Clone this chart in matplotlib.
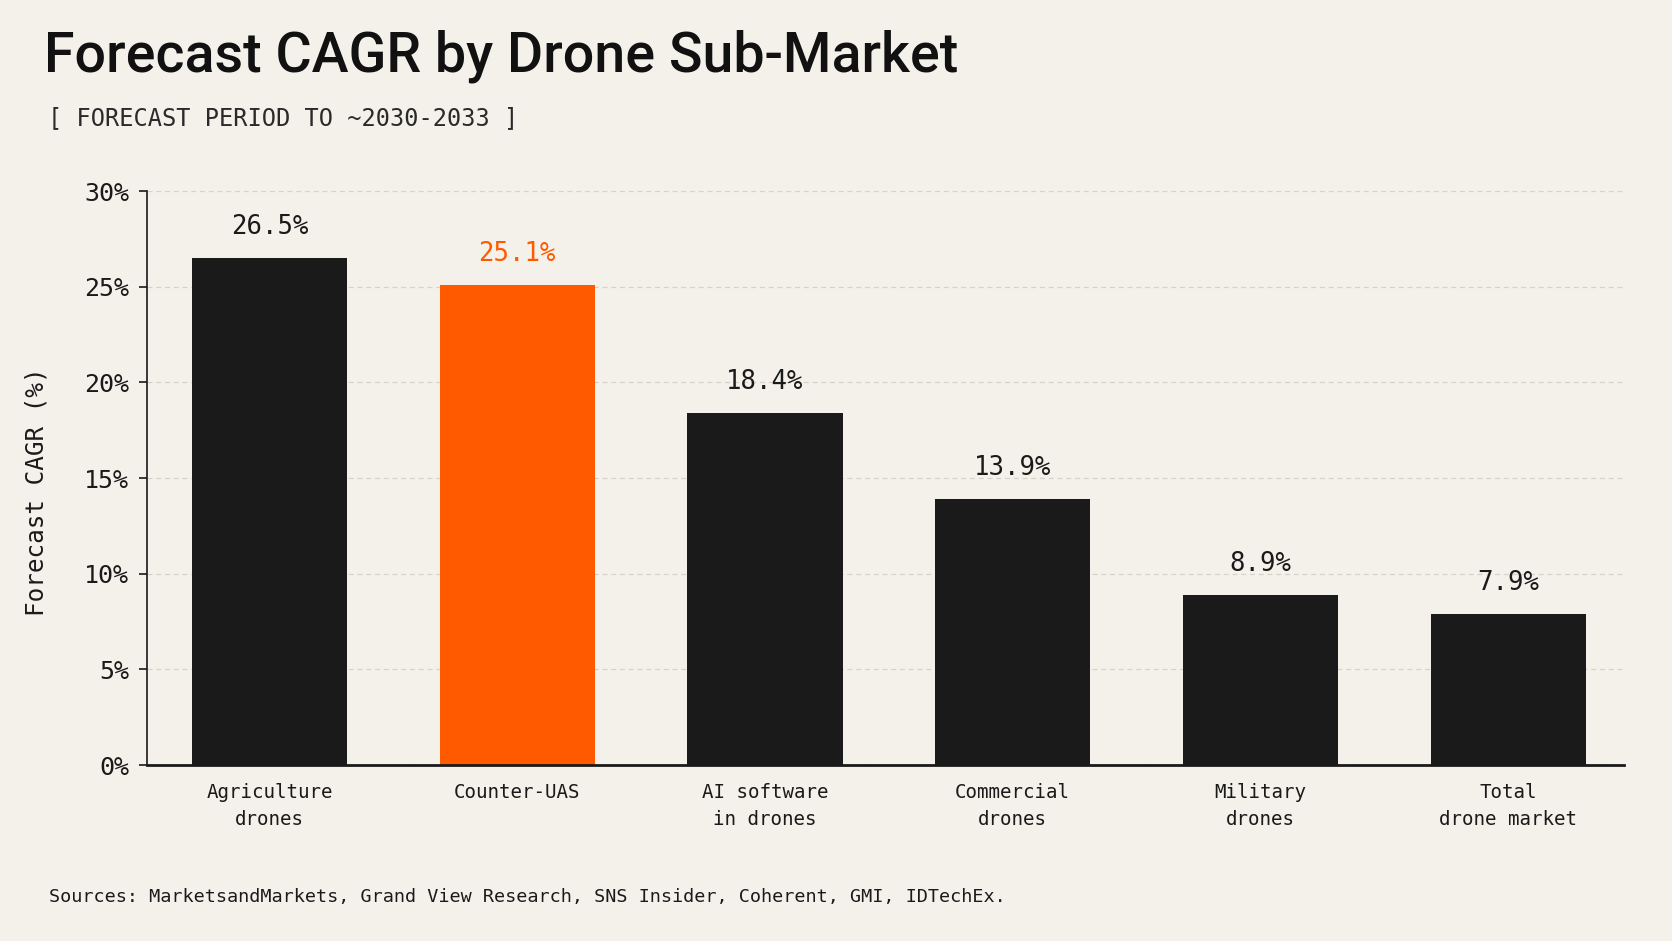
import matplotlib
matplotlib.use('Agg')
import matplotlib.pyplot as plt

# ---------------------------
categories = ['Agriculture\ndrones', 'Counter-UAS', 'AI software\nin drones',
              'Commercial\ndrones', 'Military\ndrones', 'Total\ndrone market']
cagr = [26.5, 25.1, 18.4, 13.9, 8.9, 7.9]
highlight = 'Counter-UAS'
yticks = [0, 5, 10, 15, 20, 25, 30]

bg = '#F4F1EA'
ink = '#1A1A1A'
orange = '#FF5A00'
mono = 'DejaVu Sans Mono'

fig = plt.figure(figsize=(16.72, 9.41), dpi=100, facecolor=bg)
ax = fig.add_axes([0.0879, 0.187, 0.9713 - 0.0879, 0.797 - 0.187])
ax.set_facecolor(bg)

colors = [orange if c == highlight else ink for c in categories]
x = range(len(categories))
bars = ax.bar(x, cagr, width=0.626, color=colors, zorder=3)

for b, v, c in zip(bars, cagr, colors):
    ax.annotate(f'{v:.1f}%', (b.get_x() + b.get_width() / 2, v),
                xytext=(0, 13), textcoords='offset points',
                ha='center', va='bottom', fontsize=18.5, family=mono, color=c)

ax.set_xlim(-0.495, 5.468)
ax.set_ylim(0, 30)
ax.set_yticks(yticks)
ax.set_yticklabels([f'{t}%' for t in yticks], family=mono, fontsize=18, color=ink)
ax.set_xticks(list(x))
ax.set_xticklabels(categories, family=mono, fontsize=13.8, color=ink, linespacing=1.5)
ax.tick_params(axis='x', length=0, pad=13)
ax.tick_params(axis='y', length=6, width=1.2, color=ink, pad=7)

ax.grid(axis='y', color='#D6D2CA', linestyle=(0, (4, 3)), linewidth=0.9, zorder=0)
for s in ['top', 'right']:
    ax.spines[s].set_visible(False)
ax.spines['left'].set_color(ink)
ax.spines['left'].set_linewidth(1.2)
ax.spines['bottom'].set_color(ink)
ax.spines['bottom'].set_linewidth(2)
ax.spines['bottom'].set_zorder(4)

fig.text(0.022, 0.477, 'Forecast CAGR (%)', rotation=90, ha='center', va='center',
         family=mono, fontsize=17.5, color=ink)

fig.text(0.0265, 0.9245, 'Forecast CAGR by Drone Sub-Market', ha='left', va='baseline',
         family='Roboto', fontweight='medium', fontsize=40, color='#111111')
fig.text(0.0287, 0.867, '[ FORECAST PERIOD TO ~2030-2033 ]', ha='left', va='baseline',
         family=mono, fontsize=17, color='#2A2A2A')
fig.text(0.0293, 0.0414, 'Sources: MarketsandMarkets, Grand View Research, SNS Insider, Coherent, GMI, IDTechEx.',
         ha='left', va='baseline', family=mono, fontsize=13.3, color=ink)

fig.savefig('out.png', dpi=100, facecolor=bg)
